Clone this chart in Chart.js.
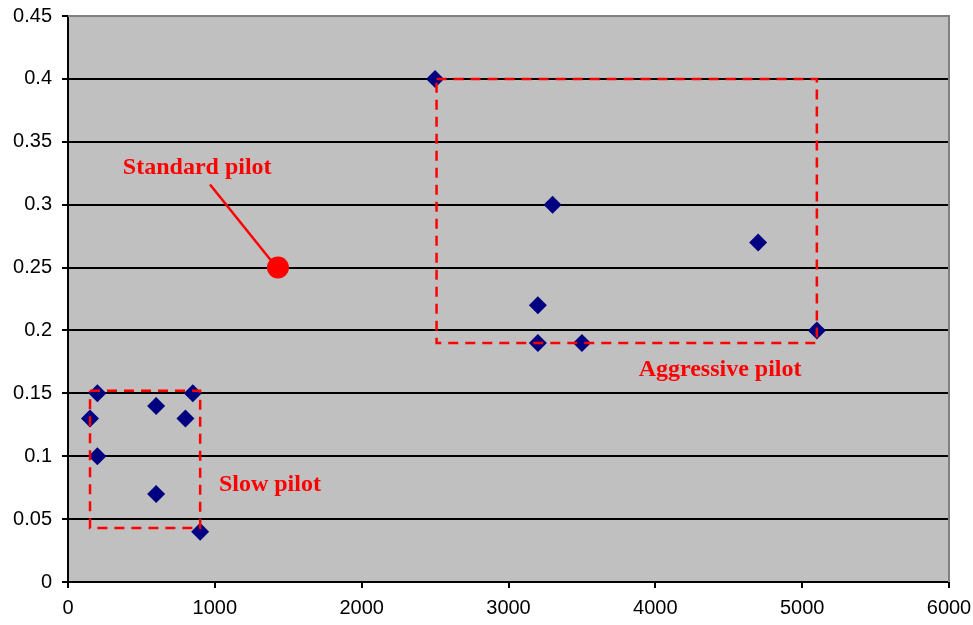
<!DOCTYPE html>
<html>
<head>
<meta charset="utf-8">
<script src="https://cdn.jsdelivr.net/npm/chart.js@4.4.0/dist/chart.umd.min.js"></script>
<style>
  html, body { margin: 0; padding: 0; background: #ffffff; }
  #wrap { width: 973px; height: 625px; }
</style>
</head>
<body>
<div id="wrap"><canvas id="chart" width="973" height="625"></canvas></div>
<script>
// pilot measurements
const slowX = [150, 200, 200, 600, 600, 800, 850, 900];
const slowY = [0.13, 0.15, 0.10, 0.14, 0.07, 0.13, 0.15, 0.04];
const aggressiveX = [2500, 3200, 3200, 3300, 3500, 4700, 5100];
const aggressiveY = [0.40, 0.22, 0.19, 0.30, 0.19, 0.27, 0.20];
const standardX = [1430];
const standardY = [0.25];

// dashed boxes round the groups
const slowBoxX = [150, 900, 900, 150, 150];
const slowBoxY = [0.152, 0.152, 0.043, 0.043, 0.152];
const aggBoxX = [2510, 5100, 5100, 2510, 2510];
const aggBoxY = [0.40, 0.40, 0.19, 0.19, 0.40];

// leader from the label to the standard pilot
const leaderX = [967, 1380];
const leaderY = [0.316, 0.256];

// axis ticks
const xTicks = [0, 1000, 2000, 3000, 4000, 5000, 6000];
const yTicks = [0, 0.05, 0.1, 0.15, 0.2, 0.25, 0.3, 0.35, 0.4, 0.45];

// annotation labels [text, x, y]
const labels = [
    ['Standard pilot', 880, 0.329],
    ['Aggressive pilot', 4441, 0.169],
    ['Slow pilot', 1375, 0.077]
];

const pts = (xs, ys) => xs.map((x, i) => ({ x: x, y: ys[i] }));

const plotDecor = {
    id: 'plotDecor',
    beforeDraw(chart) {
        const { ctx, chartArea: a } = chart;
        ctx.save();
        ctx.fillStyle = '#c0c0c0';
        ctx.fillRect(a.left, a.top, a.right - a.left, a.bottom - a.top);
        ctx.restore();
    },
    afterDraw(chart) {
        const { ctx, chartArea: a, scales } = chart;
        ctx.save();
        ctx.strokeStyle = '#808080';
        ctx.lineWidth = 2;
        ctx.beginPath();
        ctx.moveTo(a.left, a.top);
        ctx.lineTo(a.right, a.top);
        ctx.lineTo(a.right, a.bottom);
        ctx.stroke();

        ctx.fillStyle = '#ff0000';
        ctx.font = 'bold 24px "Liberation Serif", "Times New Roman", serif';
        ctx.textAlign = 'center';
        ctx.textBaseline = 'middle';
        labels.forEach(l => {
            ctx.fillText(l[0], scales.x.getPixelForValue(l[1]), scales.y.getPixelForValue(l[2]));
        });
        ctx.restore();
    }
};

const ctx = document.getElementById('chart').getContext('2d');

new Chart(ctx, {
    type: 'scatter',
    data: {
        datasets: [
            {
                label: 'Slow box',
                data: pts(slowBoxX, slowBoxY),
                showLine: true,
                borderColor: '#ff0000',
                borderWidth: 2.5,
                borderDash: [10, 7],
                pointRadius: 0,
                order: 0
            },
            {
                label: 'Aggressive box',
                data: pts(aggBoxX, aggBoxY),
                showLine: true,
                borderColor: '#ff0000',
                borderWidth: 2.5,
                borderDash: [10, 7],
                pointRadius: 0,
                order: 0
            },
            {
                label: 'Leader',
                data: pts(leaderX, leaderY),
                showLine: true,
                borderColor: '#ff0000',
                borderWidth: 2.5,
                pointRadius: 0,
                order: 0
            },
            {
                label: 'Slow pilot',
                data: pts(slowX, slowY),
                pointStyle: 'rectRot',
                pointRadius: 9,
                backgroundColor: '#000080',
                borderColor: '#000080',
                borderWidth: 0,
                order: 1
            },
            {
                label: 'Aggressive pilot',
                data: pts(aggressiveX, aggressiveY),
                pointStyle: 'rectRot',
                pointRadius: 9,
                backgroundColor: '#000080',
                borderColor: '#000080',
                borderWidth: 0,
                order: 1
            },
            {
                label: 'Standard pilot',
                data: pts(standardX, standardY),
                pointStyle: 'circle',
                pointRadius: 11,
                backgroundColor: '#ff0000',
                borderColor: '#ff0000',
                borderWidth: 0,
                order: 1
            }
        ]
    },
    options: {
        responsive: false,
        animation: false,
        layout: { padding: { left: 0, right: 24, top: 16, bottom: 0 } },
        scales: {
            x: {
                type: 'linear',
                min: 0,
                max: 6000,
                afterBuildTicks: s => { s.ticks = xTicks.map(v => ({ value: v })); },
                afterFit: s => { s.height = 43; s.paddingLeft = 0; s.paddingRight = 0; },
                ticks: {
                    color: '#000000',
                    font: { family: '"Liberation Sans", Arial, sans-serif', size: 20 },
                    padding: 8,
                    maxRotation: 0,
                    callback: v => String(v)
                },
                grid: {
                    drawOnChartArea: false,
                    drawTicks: true,
                    tickLength: 6,
                    tickColor: '#000000',
                    lineWidth: 2
                },
                border: { color: '#000000', width: 2 }
            },
            y: {
                type: 'linear',
                min: 0,
                max: 0.45,
                afterBuildTicks: s => { s.ticks = yTicks.map(v => ({ value: v })); },
                afterFit: s => { s.width = 68; s.paddingTop = 0; s.paddingBottom = 0; },
                ticks: {
                    color: '#000000',
                    font: { family: '"Liberation Sans", Arial, sans-serif', size: 20 },
                    padding: 10,
                    callback: v => String(+v.toFixed(2))
                },
                grid: {
                    color: '#000000',
                    lineWidth: 2,
                    drawTicks: true,
                    tickLength: 6,
                    tickColor: '#000000'
                },
                border: { color: '#000000', width: 2 }
            }
        },
        plugins: {
            legend: { display: false },
            tooltip: { enabled: false }
        }
    },
    plugins: [plotDecor]
});
</script>
</body>
</html>
